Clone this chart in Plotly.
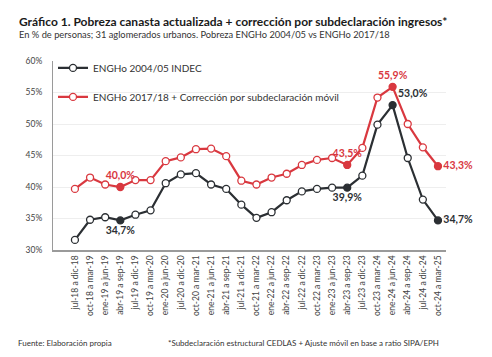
import plotly.graph_objects as go

categories = [
    "jul-18 a dic-18", "oct-18 a mar-19", "ene-19 a jun-19", "abr-19 a sep-19",
    "jul-19 a dic-19", "oct-19 a mar-20", "ene-20 a jun-20", "jul-20 a dic-20",
    "oct-20 a mar-21", "ene-21 a jun-21", "abr-21 a sep-21", "jul-21 a dic-21",
    "oct-21 a mar-22", "ene-22 a jun-22", "abr-22 a sep-22", "jul-22 a dic-22",
    "oct-22 a mar-23", "ene-23 a jun-23", "abr-23 a sep-23", "jul-23 a dic-23",
    "oct-23 a mar-24", "ene-24 a jun-24", "abr-24 a sep-24", "jul-24 a dic-24",
    "oct-24 a mar-25",
]

engho_2004 = [31.6, 34.8, 35.2, 34.7, 35.6, 36.3, 40.6, 42.0, 42.2, 40.4, 39.7, 37.2,
              35.1, 36.0, 37.9, 39.3, 39.7, 39.9, 39.9, 41.8, 49.9, 53.0, 44.6, 38.0, 34.7]
engho_2017 = [39.7, 41.5, 40.4, 40.0, 41.1, 41.1, 44.1, 44.7, 46.0, 46.1, 44.9, 41.0,
              40.4, 41.5, 42.1, 43.5, 44.3, 44.6, 43.5, 46.2, 54.2, 55.9, 50.0, 46.3, 43.3]

name_2004 = "ENGHo 2004/05 INDEC"
name_2017 = "ENGHo 2017/18 + Corrección por subdeclaración móvil"

# labelled points (index, text position)
labels_2004 = {3: "bottom center", 18: "bottom center", 21: "top right", 24: "middle right"}
labels_2017 = {3: "top center", 18: "top center", 21: "top center", 24: "middle right"}

y_ticks = [30, 35, 40, 45, 50, 55, 60]
y_tick_text = ["30%", "35%", "40%", "45%", "50%", "55%", "60%"]

DARK = "#2b2f33"
RED = "#d9383f"
FONT = "Lato"


def fmt(v):
    return f"{v:.1f}".replace(".", ",") + "%"


def make_trace(values, name, color, labels, group):
    fills = [color if i in labels else "white" for i in range(len(values))]
    texts = [fmt(v) if i in labels else "" for i, v in enumerate(values)]
    pos = [labels.get(i, "top center") for i in range(len(values))]
    return go.Scatter(
        x=categories, y=values, name=name, mode="lines+markers+text",
        legendgroup=group,
        line=dict(color=color, width=2.2),
        marker=dict(size=7, color=fills, line=dict(color=color, width=1.3)),
        text=texts, textposition=pos,
        textfont=dict(family=FONT, size=10.5, color=color, weight="bold"),
        cliponaxis=False,
    )


fig = go.Figure()
fig.add_trace(make_trace(engho_2004, name_2004, DARK, labels_2004, "a"))
fig.add_trace(make_trace(engho_2017, name_2017, RED, labels_2017, "b"))

PW = 393.0
PH = 189.0

fig.update_layout(
    width=492, height=357,
    margin=dict(l=45, r=54, t=53, b=115),
    paper_bgcolor="white", plot_bgcolor="white",
    font=dict(family=FONT, color="#333"),
    showlegend=True,
    legend=dict(x=0.0, y=1.04, xanchor="left", yanchor="top",
                bgcolor="rgba(0,0,0,0)", font=dict(size=10, color="#333"),
                tracegroupgap=10, itemwidth=30),
    xaxis=dict(type="category", range=[-1.45, 24.53], tickangle=-90,
               tickfont=dict(size=8.5, color="#444"), showgrid=False,
               showline=True, linecolor="#9a9a9a", linewidth=2, ticks="",
               zeroline=False),
    yaxis=dict(range=[30, 60], tickmode="array", tickvals=y_ticks, ticktext=y_tick_text,
               tickfont=dict(size=8.5, color="#444"), showgrid=True,
               gridcolor="#eeeeee", gridwidth=1, showline=True,
               linecolor="#9a9a9a", linewidth=1, ticks="", ticklabelstandoff=8,
               zeroline=False),
    annotations=[
        dict(text="<b>Gráfico 1. Pobreza canasta actualizada + corrección por subdeclaración ingresos*</b>",
             xref="paper", yref="paper", x=-36 / PW, y=1 + 40 / PH, xanchor="left", yanchor="middle",
             showarrow=False, font=dict(family=FONT, size=12, color="#1a1a1a")),
        dict(text="En % de personas; 31 aglomerados urbanos. Pobreza ENGHo 2004/05 vs ENGHo 2017/18",
             xref="paper", yref="paper", x=-36 / PW, y=1 + 27 / PH, xanchor="left", yanchor="middle",
             showarrow=False, font=dict(family=FONT, size=9.3, color="#333")),
        dict(text="Fuente: Elaboración propia",
             xref="paper", yref="paper", x=-37 / PW, y=-93 / PH, xanchor="left", yanchor="middle",
             showarrow=False, font=dict(family=FONT, size=8, color="#333")),
        dict(text="*Subdeclaración estructural CEDLAS + Ajuste móvil en base a ratio SIPA/EPH",
             xref="paper", yref="paper", x=113 / PW, y=-93 / PH, xanchor="left", yanchor="middle",
             showarrow=False, font=dict(family=FONT, size=8, color="#333")),
    ],
)

fig.write_html("out.html")
